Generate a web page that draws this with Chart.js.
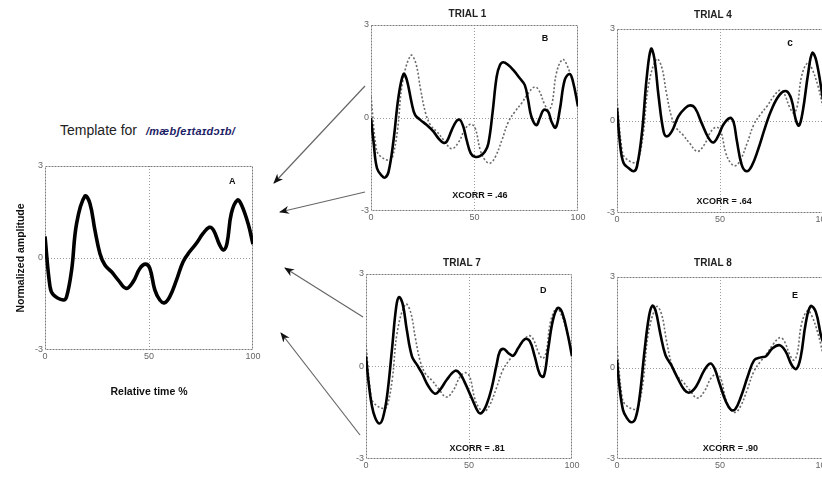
<!DOCTYPE html>
<html>
<head>
<meta charset="utf-8">
<script src="https://cdn.jsdelivr.net/npm/chart.js@4.4.1/dist/chart.umd.min.js"></script>
<style>
  body { margin: 0; background: #fff; }
  #fig { position: relative; width: 822px; height: 477px; overflow: hidden; font-family: 'Liberation Sans', Arial, sans-serif; }
  #fig canvas { position: absolute; }
  #tmplTitle { position: absolute; left: 60px; top: 122px; font-size: 14px; color: #222; white-space: nowrap; }
  #tmplTitle i { font-weight: bold; font-size: 11px; color: #1d1d66; margin-left: 5px; letter-spacing: 0.3px; }
  #arrows { position: absolute; left: 0; top: 0; }
</style>
</head>
<body>
<div id="fig">
  <div id="tmplTitle">Template for <i>/mæbʃeɪtaɪdɔɪb/</i></div>
  <canvas id="chartA" width="265" height="244" style="left:0px;top:156px"></canvas>
  <canvas id="chartB" width="235" height="218" style="left:357px;top:7px"></canvas>
  <canvas id="chartC" width="234" height="219" style="left:603px;top:8px"></canvas>
  <canvas id="chartD" width="234" height="217" style="left:352px;top:256px"></canvas>
  <canvas id="chartE" width="234" height="217" style="left:603px;top:256px"></canvas>
  <svg id="arrows" width="822" height="477">
    <defs>
      <marker id="head" markerWidth="10" markerHeight="8" refX="9" refY="4" orient="auto" markerUnits="userSpaceOnUse">
        <path d="M0,0 L10,4 L0,8 L3,4 z" fill="#111"/>
      </marker>
    </defs>
    <g stroke="#666" stroke-width="1.2" marker-end="url(#head)">
      <line x1="365" y1="86" x2="274" y2="183"/>
      <line x1="365" y1="192" x2="280" y2="212"/>
      <line x1="363" y1="317" x2="285" y2="268"/>
      <line x1="360" y1="435" x2="281" y2="333"/>
    </g>
  </svg>
</div>
<script>
// template token (panel A, also dotted in B-E)
const templateX = [0, 2.4, 4, 8.8, 10.4, 12.8, 15.2, 19.2, 21.6, 24, 26.4, 28.8, 32, 35.2, 39, 42.4, 45.6, 48.3, 50.4, 52.8, 55.2, 57.5, 60, 63.2, 66.4, 69.6, 72.8, 76, 79, 81, 84, 85.8, 87.5, 89.6, 92.5, 94.5, 97.6, 100];
const templateY = [0.7, -0.93, -1.2, -1.37, -1.26, -0.39, 1.13, 2.02, 1.78, 0.91, 0.15, -0.23, -0.45, -0.72, -0.99, -0.77, -0.34, -0.2, -0.34, -1.04, -1.37, -1.46, -1.26, -0.72, -0.12, 0.21, 0.48, 0.8, 1.0, 0.91, 0.42, 0.26, 0.48, 1.46, 1.89, 1.73, 1.13, 0.45];

// trial 1
const trial1X = [0, 1.3, 2.9, 5.3, 6.9, 8.5, 10.9, 13.3, 15.7, 17.3, 19.7, 21.3, 23.8, 27, 30.2, 32.6, 35, 36.6, 39, 41.4, 43, 44.6, 46.2, 48.2, 50.2, 52.6, 55, 56.7, 58.7, 60.7, 62.3, 63.9, 66.3, 68.7, 71.9, 74.3, 75.9, 77.5, 79.9, 81.5, 83.4, 85.6, 87.2, 89.2, 91.2, 93.6, 96, 97.6, 100];
const trial1Y = [0, -0.82, -1.62, -1.87, -1.92, -1.73, -0.71, 0.69, 1.42, 1.23, 0.47, 0.10, -0.06, -0.23, -0.44, -0.66, -0.80, -0.76, -0.39, -0.09, -0.06, -0.28, -0.71, -1.14, -1.25, -1.23, -1.09, -0.82, 0.16, 1.33, 1.71, 1.80, 1.71, 1.55, 1.28, 1.06, 0.58, 0.04, -0.23, -0.01, 0.26, 0.20, -0.12, -0.31, 0.26, 1.23, 1.42, 1.17, 0.37];

// trial 4
const trial4X = [0, 1.6, 3.2, 5.6, 8.1, 9.7, 12.1, 14.5, 16.5, 18.1, 20.2, 22.6, 24.2, 26.6, 29.8, 33.1, 35.5, 37.9, 41.1, 44.4, 46.8, 49.2, 51.6, 54.8, 56.5, 58.1, 60.5, 62.9, 65.3, 68.5, 71.8, 75, 79, 82.3, 84.7, 86.8, 88.4, 90.3, 92.7, 94.8, 96.8, 100];
const trial4Y = [0.42, -0.83, -1.37, -1.53, -1.64, -1.48, -0.39, 1.46, 2.35, 2.05, 0.80, -0.34, -0.50, -0.34, 0.15, 0.42, 0.51, 0.42, -0.07, -0.55, -0.70, -0.48, -0.12, 0.10, -0.01, -0.61, -1.42, -1.64, -1.48, -0.93, -0.23, 0.37, 0.86, 0.97, 0.70, 0.04, -0.15, 0.37, 1.51, 2.22, 1.95, 0.7];

// trial 7
const trial7X = [0, 1.3, 2.9, 4.5, 6.5, 8.2, 10.2, 12.6, 14.7, 16.1, 17.9, 19.8, 22.3, 24.7, 27.1, 30.3, 33.5, 36, 39.2, 43.2, 45.6, 48.1, 51.3, 54.5, 56.1, 58.5, 61, 63.4, 65, 66.9, 69, 71.5, 73.9, 77.1, 79.5, 81.9, 84.4, 86.3, 88.4, 90.8, 93.2, 95.3, 98.1, 100];
const trial7Y = [0.33, -0.54, -1.29, -1.67, -1.85, -1.67, -0.97, 0.55, 1.95, 2.25, 2.0, 1.19, 0.33, 0.06, -0.21, -0.64, -0.88, -0.75, -0.43, -0.14, -0.23, -0.54, -1.02, -1.48, -1.51, -1.24, -0.70, 0.06, 0.49, 0.57, 0.44, 0.35, 0.60, 0.89, 0.82, 0.33, -0.26, -0.32, 0.55, 1.52, 1.90, 1.74, 0.98, 0.33];

// trial 8
const trial8X = [0, 1, 2.9, 4.8, 6.9, 9, 11, 13.4, 15.5, 17.1, 18.7, 21, 23.5, 26.3, 29.5, 32.7, 35.2, 38.4, 42.4, 45.3, 47.3, 49.7, 52.9, 55.3, 57.4, 60.2, 63.4, 66.6, 69.8, 72.3, 75.5, 79, 81.9, 84.8, 87.1, 89.2, 91.6, 94, 96.5, 98.9, 100];
const trial8Y = [0.26, -0.5, -1.38, -1.65, -1.79, -1.65, -0.94, 0.59, 1.69, 2.05, 1.90, 1.14, 0.43, 0.10, -0.34, -0.72, -0.81, -0.61, -0.07, 0.15, -0.01, -0.5, -1.11, -1.38, -1.36, -0.94, -0.29, 0.26, 0.35, 0.39, 0.65, 0.75, 0.54, 0.10, -0.03, 0.37, 1.47, 2.04, 1.85, 1.1, 0.85];

const xTicks = [0, 50, 100];
const yTicks = [-3, 0, 3];

const FONT = "'Liberation Sans', Arial, sans-serif";

function pts(xs, ys) {
  return xs.map((x, i) => ({ x: x, y: ys[i] }));
}

// frame round the plot + letters / xcorr text placed in data units
const panelText = {
  id: 'panelText',
  beforeDatasetsDraw(chart) {
    const a = chart.chartArea, ctx = chart.ctx;
    ctx.save();
    ctx.strokeStyle = '#7a7a7a';
    ctx.lineWidth = 1;
    ctx.setLineDash([2, 1]);
    ctx.strokeRect(a.left + 0.5, a.top + 0.5, a.right - a.left - 1, a.bottom - a.top - 1);
    ctx.restore();
  },
  afterDatasetsDraw(chart, args, opts) {
    const ctx = chart.ctx, sx = chart.scales.x, sy = chart.scales.y;
    ctx.save();
    ctx.fillStyle = '#111';
    ctx.textAlign = 'center';
    ctx.textBaseline = 'middle';
    (opts.items || []).forEach(it => {
      ctx.font = 'bold ' + it.size + 'px ' + FONT;
      ctx.fillText(it.text, sx.getPixelForValue(it.x), sy.getPixelForValue(it.y));
    });
    ctx.restore();
  }
};
Chart.register(panelText);

function makePanel(id, p) {
  const datasets = [{
    data: pts(p.xs, p.ys),
    borderColor: '#000',
    borderWidth: p.solidWidth,
    pointRadius: 0,
    tension: 0.4,
    fill: false
  }];
  if (p.showTemplate) {
    datasets.push({
      data: pts(templateX, templateY),
      borderColor: '#6a6a6a',
      borderWidth: 1.6,
      borderDash: [2, 2],
      pointRadius: 0,
      tension: 0.4,
      fill: false
    });
  }

  new Chart(document.getElementById(id), {
    type: 'line',
    data: { datasets: datasets },
    options: {
      responsive: false,
      animation: false,
      events: [],
      layout: { autoPadding: false, padding: p.padding },
      plugins: {
        legend: { display: false },
        tooltip: { enabled: false },
        title: {
          display: !!p.title,
          text: p.title,
          color: '#222',
          font: { family: FONT, size: 10, weight: 'bold', lineHeight: '14px' },
          padding: { top: 0, bottom: p.titlePad || 0 }
        },
        panelText: { items: p.items }
      },
      scales: {
        x: {
          type: 'linear',
          min: 0,
          max: 100,
          afterBuildTicks: s => { s.ticks = xTicks.map(v => ({ value: v })); },
          afterFit: s => { s.height = p.xh; },
          ticks: { color: '#666', padding: 1, maxRotation: 0, font: { family: FONT, size: 9 } },
          grid: {
            drawTicks: false,
            lineWidth: 1,
            color: c => (c.tick && c.tick.value === 50) ? '#9a9a9a' : 'rgba(0,0,0,0)'
          },
          border: { display: false, dash: [1, 2] },
          title: p.xTitle ? {
            display: true, text: p.xTitle, color: '#111',
            font: { family: FONT, size: 10.5, weight: 'bold', lineHeight: '12px' },
            padding: { top: 0, bottom: 2 }
          } : { display: false }
        },
        y: {
          type: 'linear',
          min: -3,
          max: 3,
          afterBuildTicks: s => { s.ticks = yTicks.map(v => ({ value: v })); },
          afterFit: s => { s.width = p.yw; },
          ticks: { color: '#666', padding: 2, font: { family: FONT, size: 9 } },
          grid: {
            drawTicks: false,
            lineWidth: 1,
            color: c => (c.tick && c.tick.value === 0) ? '#9a9a9a' : 'rgba(0,0,0,0)'
          },
          border: { display: false, dash: [1, 2] },
          title: p.yTitle ? {
            display: true, text: p.yTitle, color: '#111',
            font: { family: FONT, size: 10.5, weight: 'bold', lineHeight: '12px' },
            padding: { top: 15, bottom: 0 }
          } : { display: false }
        }
      }
    }
  });
}

makePanel('chartA', {
  xs: templateX, ys: templateY, solidWidth: 3.6, showTemplate: false,
  padding: { left: 0, right: 12, top: 10, bottom: 0 }, yw: 45, xh: 50,
  xTitle: 'Relative time %', yTitle: 'Normalized amplitude',
  items: [{ text: 'A', x: 90, y: 2.5, size: 9 }]
});
makePanel('chartB', {
  xs: trial1X, ys: trial1Y, solidWidth: 2.6, showTemplate: true,
  padding: { left: 0, right: 14, top: 0, bottom: 0 }, yw: 14, xh: 14,
  title: 'TRIAL 1', titlePad: 4,
  items: [{ text: 'B', x: 84, y: 2.55, size: 9 }, { text: 'XCORR = .46', x: 52.6, y: -2.5, size: 9 }]
});
makePanel('chartC', {
  xs: trial4X, ys: trial4Y, solidWidth: 2.6, showTemplate: true,
  padding: { left: 0, right: 14, top: 0, bottom: 0 }, yw: 14, xh: 14,
  title: 'TRIAL 4', titlePad: 7,
  items: [{ text: 'c', x: 84, y: 2.55, size: 10 }, { text: 'XCORR = .64', x: 52, y: -2.63, size: 9 }]
});
makePanel('chartD', {
  xs: trial7X, ys: trial7Y, solidWidth: 2.6, showTemplate: true,
  padding: { left: 0, right: 14, top: 0, bottom: 0 }, yw: 14, xh: 14,
  title: 'TRIAL 7', titlePad: 4,
  items: [{ text: 'D', x: 86, y: 2.48, size: 9 }, { text: 'XCORR = .81', x: 54, y: -2.65, size: 9 }]
});
makePanel('chartE', {
  xs: trial8X, ys: trial8Y, solidWidth: 2.6, showTemplate: true,
  padding: { left: 0, right: 14, top: 0, bottom: 0 }, yw: 14, xh: 14,
  title: 'TRIAL 8', titlePad: 7,
  items: [{ text: 'E', x: 86.4, y: 2.4, size: 9 }, { text: 'XCORR = .90', x: 55, y: -2.65, size: 9 }]
});
</script>
</body>
</html>
